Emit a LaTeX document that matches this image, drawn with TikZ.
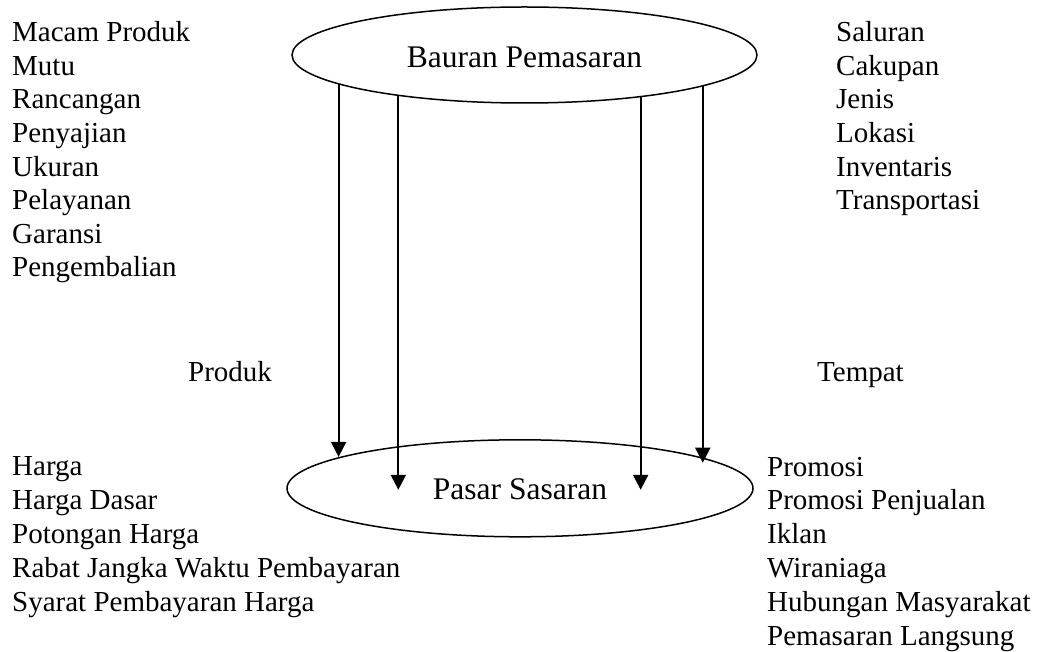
\documentclass[tikz,border=0pt]{standalone}
\usepackage{fontspec}
\setmainfont{Liberation Serif}
\usetikzlibrary{shapes.geometric,arrows.meta}
\begin{document}
\begin{tikzpicture}[x=1pt,y=-1pt,
  txt/.style={anchor=base west,inner sep=0pt,font=\fontsize{29}{34}\selectfont},
  oval/.style={ellipse,draw,line width=1.5pt,inner sep=0pt,font=\fontsize{31.5}{36}\selectfont,text depth=0pt},
  arr/.style={line width=1.9pt,-{Triangle[length=15pt,width=15pt]}}]
\useasboundingbox (0,0) rectangle (1040,652);
\node[oval,minimum width=465pt,minimum height=96pt,text height=26pt] (top) at (524.5,55) {Bauran Pemasaran};
\node[oval,minimum width=466pt,minimum height=97pt,text height=23pt] (bot) at (520,488.3) {Pasar Sasaran};
\foreach \t [count=\i] in {Macam Produk,Mutu,Rancangan,Penyajian,Ukuran,Pelayanan,Garansi,Pengembalian}
  \node[txt] (p\i) at (12,{41.7+33.6*(\i-1)}) {\t};
\foreach \t [count=\i] in {Saluran,Cakupan,Jenis,Lokasi,Inventaris,Transportasi}
  \node[txt] (t\i) at (836,{41.7+33.6*(\i-1)}) {\t};
\node[txt] (produk) at (188,381) {Produk};
\node[txt] (tempat) at (817,381) {Tempat};
\foreach \t [count=\i] in {Harga,Harga Dasar,Potongan Harga,Rabat Jangka Waktu Pembayaran,Syarat Pembayaran Harga}
  \node[txt] (h\i) at (12,{475+34.2*(\i-1)}) {\t};
\foreach \t [count=\i] in {Promosi,Promosi Penjualan,Iklan,Wiraniaga,Hubungan Masyarakat,Pemasaran Langsung}
  \node[txt] (r\i) at (767,{476+33.8*(\i-1)}) {\t};
\draw[arr] (top.189.8) -- ([yshift=-2pt]top.189.8 |- bot.169.6);
\draw[arr] (top.198.2) -- ([yshift=-1.5pt]top.198.2 |- bot.center);
\draw[arr] (top.340.6) -- ([yshift=-1.5pt]top.340.6 |- bot.center);
\draw[arr] (top.350.1) -- ([yshift=-4pt]top.350.1 |- bot.9.4);
\end{tikzpicture}
\end{document}
